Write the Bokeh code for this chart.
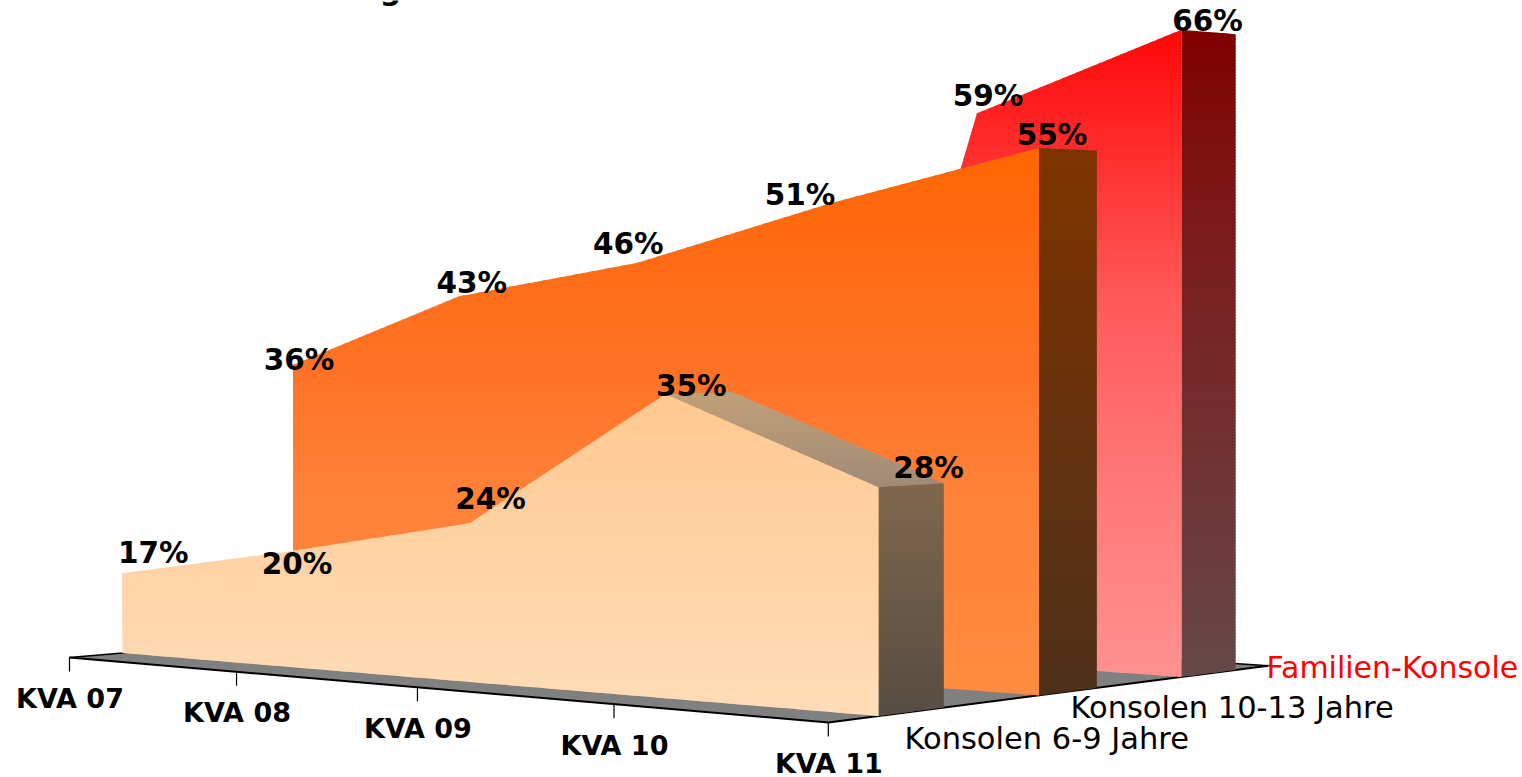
from bokeh.plotting import figure
from bokeh.models import Range1d
from bokeh.core.properties import value
from bokeh.embed import file_html
from bokeh.resources import INLINE

# ---- data -------------------------------------------------------------
categories = ["KVA 07", "KVA 08", "KVA 09", "KVA 10", "KVA 11"]
series_names = ["Konsolen 6-9 Jahre", "Konsolen 10-13 Jahre", "Familien-Konsole"]
kons_6_9 = [17.4, 20.3, 23.6, 35, 28]
kons_10_13 = [36.4, 43, 46, 51, 55.25]
familien = [0, 0, 0, 59.4, 66]
axis_min = 10

# ---- camera of the 3D view (category u, depth d, value v -> page) -------
C_U, C_D = 0.0383, 0.0563
AX_U, AX_D, AX_0, AX_UD = 158.0, 195.3, 69.0, 1.47
AY_U, AY_D, AY_0 = -11.4, 20.7, 657.0
K_V, K_D = 10.92, 0.14
D_END = 2.87


def project(u, d, v=axis_min):
    w = 1 - C_U * u + C_D * d
    return ((AX_U * u + AX_D * d + AX_0 + AX_UD * u * d) / w,
            (AY_U * u + AY_D * d + AY_0 - (K_V + K_D * d) * (v - axis_min)) / w)


def clip(poly, ylim, keep_below):
    out = []
    for i, (x0, y0) in enumerate(poly):
        x1, y1 = poly[(i + 1) % len(poly)]
        in0 = y0 >= ylim if keep_below else y0 <= ylim
        in1 = y1 >= ylim if keep_below else y1 <= ylim
        if in0:
            out.append((x0, y0))
        if in0 != in1:
            t = (ylim - y0) / (y1 - y0)
            out.append((x0 + t * (x1 - x0), ylim))
    return out


def ramp(stops, t):
    for (t0, c0), (t1, c1) in zip(stops, stops[1:]):
        if t <= t1:
            f = (t - t0) / (t1 - t0) if t1 > t0 else 0
            f = max(0, min(1, f))
            return "#%02x%02x%02x" % tuple(round(a + f * (b - a)) for a, b in zip(c0, c1))
    return "#%02x%02x%02x" % stops[-1][1]


xs_all, ys_all, cols_all = [], [], []


def gradient(poly, stops, step=3.0):
    ymin = min(p[1] for p in poly)
    ymax = max(p[1] for p in poly)
    y = ymin
    while y < ymax:
        band = clip(clip(poly, y, True), y + step + 1.2, False)
        if len(band) >= 3:
            xs_all.append([b[0] for b in band])
            ys_all.append([b[1] for b in band])
            cols_all.append(ramp(stops, (y - ymin) / (ymax - ymin)))
        y += step


def wall_outline(values):
    pts = []
    for i, v in enumerate(values):
        if i and (values[i - 1] - axis_min) * (v - axis_min) < 0:
            t = (axis_min - values[i - 1]) / (v - values[i - 1])
            pts.append((i - 1 + t, axis_min))
        if v >= axis_min:
            pts.append((i, v))
    return pts


# ---- styling ------------------------------------------------------------
depth = [(0.28, 0.66), (1.25, 1.63), (2.22, 2.62)]
wall_stops = [
    [(0, (255, 200, 146)), (1, (255, 221, 184))],
    [(0, (255, 102, 0)), (0.1, (255, 105, 12)), (0.4, (255, 114, 38)),
     (0.64, (255, 130, 56)), (1, (255, 140, 64))],
    [(0, (255, 8, 8)), (0.26, (255, 60, 60)), (0.42, (255, 90, 90)),
     (0.72, (255, 122, 122)), (1, (255, 145, 145))],
]
side_stops = [
    [(0, (128, 102, 77)), (1, (87, 77, 66))],
    [(0, (127, 51, 0)), (1, (77, 48, 26))],
    [(0, (128, 0, 0)), (0.26, (125, 24, 24)), (1, (102, 73, 74))],
]
top_stops = [(0, (192, 160, 120)), (1, (160, 138, 120))]
text_black = "#000000"
pct_font = value("DejaVu Sans")

# offsets of each value label from its point, in page pixels
label_dx = [[31, 8, 21, 26, 50], [6, 13, -9, -30, 13], [0, 0, 0, 11, 26]]
label_dy = [[-20, 13, -24, -8, -19], [-5, -13, -19, -8, -13], [0, 0, 0, -17, -9]]

p = figure(width=1522, height=777, x_range=Range1d(0, 1522), y_range=Range1d(777, 0),
           output_backend="svg", toolbar_location=None, min_border=0,
           outline_line_color=None, background_fill_color="white",
           styles={"position": "absolute", "left": "0px", "top": "0px"})
p.axis.visible = False
p.grid.visible = False

# floor
floor = [project(0, 0), project(4, 0), project(4, D_END), project(0, D_END)]
p.patch([c[0] for c in floor], [c[1] for c in floor], fill_color="#808080", line_color=None)
p.line([c[0] for c in floor[:3]], [c[1] for c in floor[:3]], line_color="black", line_width=2)
back = [project(0, 0), project(0, D_END)]
p.line([b[0] for b in back], [b[1] for b in back], line_color="black", line_width=1.5)
back = [project(4, D_END), project(0, D_END)]
p.line([b[0] for b in back], [b[1] for b in back], line_color="black", line_width=1.5)

# walls, back to front
all_values = [kons_6_9, kons_10_13, familien]
for idx in (2, 1, 0):
    vals = all_values[idx]
    df, db = depth[idx]
    if idx == 0:
        face = [project(3, df, vals[3]), project(3, db, vals[3]),
                project(4, db, vals[4]), project(4, df, vals[4])]
        gradient(face, top_stops, step=2.0)
    side = [project(4, df, vals[4]), project(4, db, vals[4]), project(4, db), project(4, df)]
    gradient(side, side_stops[idx])
    outline = wall_outline(vals)
    poly = [project(u, df, v) for u, v in outline]
    poly += [project(outline[-1][0], df), project(outline[0][0], df)]
    gradient(poly, wall_stops[idx])

p.patches(xs_all, ys_all, fill_color=cols_all, line_color=None)

# category ticks and labels
for i, c in enumerate(categories):
    x, y = project(i, 0)
    p.segment([x], [y], [x], [y + 14], line_color="black", line_width=1.2)
p.text([project(i, 0)[0] + 0.5 for i in range(5)], [project(i, 0)[1] + 41 for i in range(5)],
       text=categories, text_font=pct_font, text_font_style="bold",
       text_font_size=value("27px"), text_align="center", text_baseline="middle",
       text_color=text_black)

# depth axis
x, y = project(4, D_END)
p.segment([x], [y], [x + 6], [y], line_color="black", line_width=1.2)

p.text([904, 1070], [738, 707], text=series_names[:2], text_font=pct_font,
       text_font_size=value("30.5px"), text_align="left", text_baseline="middle",
       text_color=text_black)
p.text([1266], [667], text=series_names[2:], text_font=pct_font,
       text_font_size=value("30px"), text_align="left", text_baseline="middle",
       text_color="#ff0000")

# value labels
lx, ly, lt = [], [], []
for idx, vals in enumerate(all_values):
    for i, v in enumerate(vals):
        if v > 0:
            x, y = project(i, depth[idx][0], v)
            lx.append(x + label_dx[idx][i])
            ly.append(y + label_dy[idx][i])
            lt.append(f"{round(v)}%")
p.text(lx, ly, text=lt, text_font=pct_font, text_font_style="bold",
       text_font_size=value("29.5px"), text_align="center", text_baseline="middle",
       text_color=text_black)

# descender of the title cut off by the top of the picture
p.text([390], [-11], text=["g"], text_font=pct_font, text_font_style="bold",
       text_font_size=value("30px"), text_align="center", text_baseline="alphabetic",
       text_color=text_black)

open("out.html", "w").write(file_html(p, INLINE))
